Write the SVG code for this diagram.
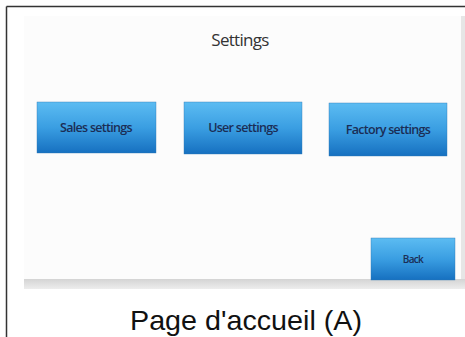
<svg xmlns="http://www.w3.org/2000/svg" width="465" height="337" viewBox="0 0 465 337">
  <defs>
    <linearGradient id="btnGrad" x1="0" y1="0" x2="0" y2="1">
      <stop offset="0" stop-color="#5cbcf2"/>
      <stop offset="0.5" stop-color="#3a9ee2"/>
      <stop offset="1" stop-color="#1670c0"/>
    </linearGradient>
    <linearGradient id="barGrad" x1="0" y1="0" x2="0" y2="1">
      <stop offset="0" stop-color="#d4d4d4"/>
      <stop offset="1" stop-color="#ededed"/>
    </linearGradient>
    <style>
      .btn { fill: url(#btnGrad); stroke: #2f78b4; stroke-width: 0.4; }
      .btnText { font-family: "Open Sans", "Liberation Sans", sans-serif; font-size: 12.5px; font-weight: 600; fill: #1b2d55; text-anchor: middle; letter-spacing: -0.7px; }
      .title { font-family: "Open Sans", "Liberation Sans", sans-serif; font-size: 17px; fill: #333; text-anchor: middle; letter-spacing: -0.7px; }
      .caption { font-family: "Liberation Sans", Arial, sans-serif; font-size: 28px; fill: #111; }
    </style>
  </defs>

  <rect x="0" y="0" width="465" height="337" fill="#ffffff"/>

  <!-- frame lines -->
  <line x1="6.5" y1="6.5" x2="465" y2="6.5" stroke="#333" stroke-width="1.5"/>
  <line x1="6.5" y1="6.5" x2="6.5" y2="337" stroke="#333" stroke-width="1.5"/>

  <!-- screen area -->
  <rect x="24" y="16" width="438" height="263" fill="#fcfcfc"/>
  <rect x="461" y="16" width="4" height="263" fill="#e6e6e6"/>
  <rect x="24" y="279" width="441" height="10" fill="url(#barGrad)"/>

  <text class="title" x="240" y="46">Settings</text>

  <g id="sales-settings">
    <rect class="btn" x="37" y="102" width="119" height="51"/>
    <text class="btnText" x="96" y="132">Sales settings</text>
  </g>
  <g id="user-settings">
    <rect class="btn" x="184" y="102" width="118" height="52"/>
    <text class="btnText" x="243" y="132">User settings</text>
  </g>
  <g id="factory-settings">
    <rect class="btn" x="329" y="103" width="118" height="53"/>
    <text class="btnText" x="388" y="134">Factory settings</text>
  </g>
  <g id="back">
    <rect class="btn" x="371" y="238" width="84" height="42"/>
    <text class="btnText" x="413" y="263" style="font-size:10px">Back</text>
  </g>

  <g id="connectors"></g>

  <text class="caption" x="130" y="330" textLength="232" lengthAdjust="spacingAndGlyphs">Page d'accueil (A)</text>
</svg>
